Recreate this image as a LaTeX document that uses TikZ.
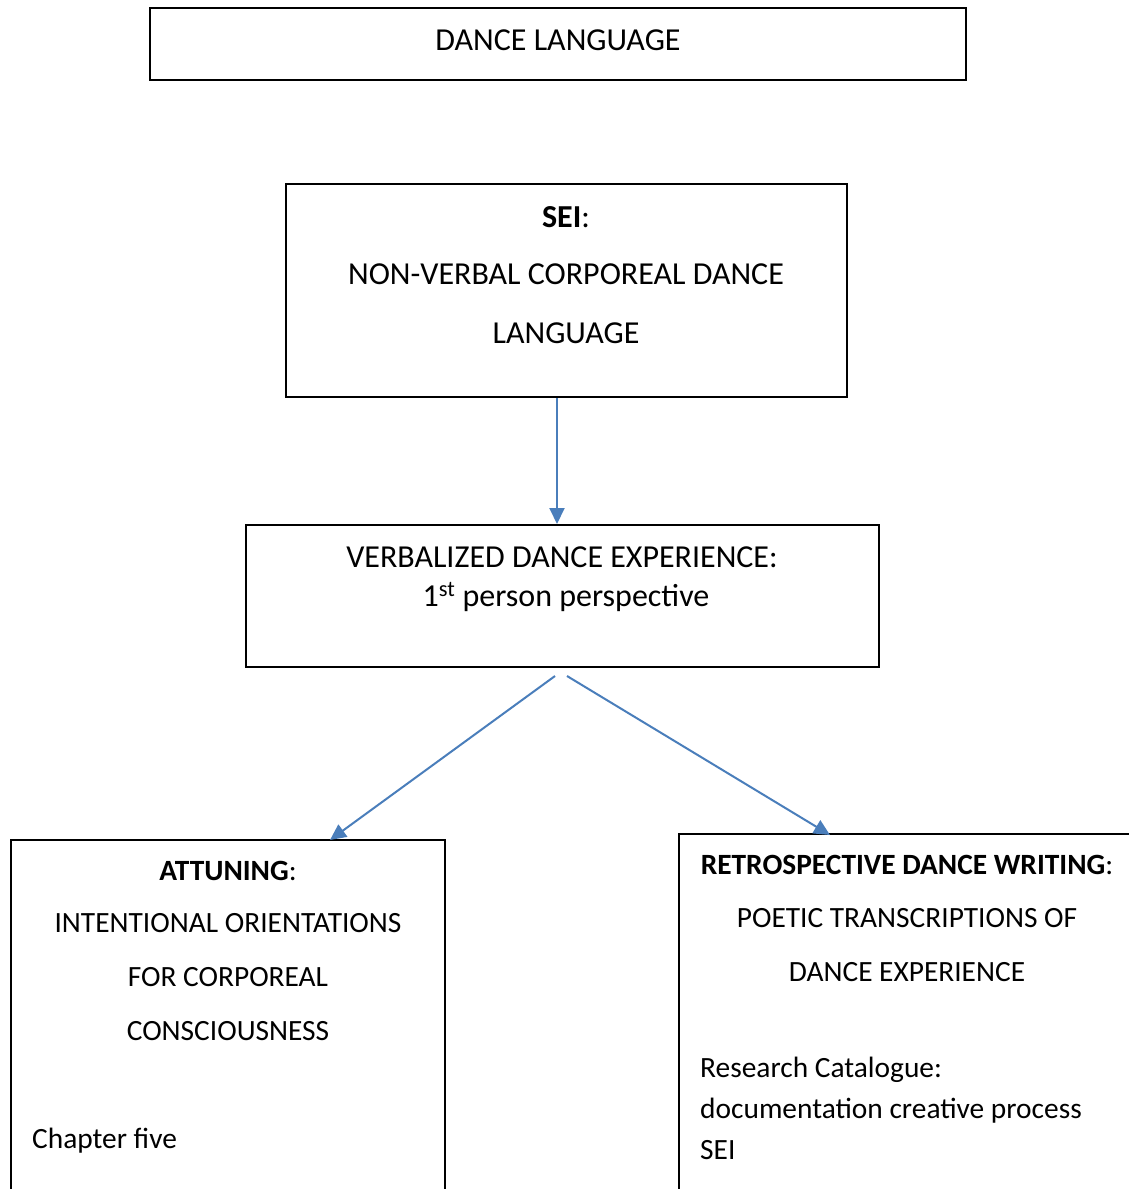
\documentclass[tikz,border=0pt]{standalone}
\usepackage{fontspec}
\setmainfont{Carlito}
\usetikzlibrary{arrows.meta}
\definecolor{arrowblue}{HTML}{4A7EBB}
\tikzset{
  boxline/.style={draw=black, line width=2pt},
  txt/.style={inner sep=0pt, anchor=base, font=\fontsize{32}{38}\selectfont},
  txtlow/.style={inner sep=0pt, anchor=base, font=\fontsize{29.4}{35}\selectfont},
  ltxt/.style={inner sep=0pt, anchor=base west, font=\fontsize{29.4}{35}\selectfont},
  conn/.style={draw=arrowblue, line width=2pt, -{Triangle[length=16pt,width=15pt]}}
}
\begin{document}
\begin{tikzpicture}[x=1pt,y=-1pt]
\useasboundingbox (0,0) rectangle (1129,1189);
\clip (0,0) rectangle (1129,1189);
% boxes
\draw[boxline] (150,8) rectangle (966,80);
\draw[boxline] (286,184) rectangle (847,397);
\draw[boxline] (246,525) rectangle (879,667);
\draw[boxline] (11,840) rectangle (445,1210);
\draw[boxline] (679,834) rectangle (1140,1210);
% texts
\node[txt] (t1) at (558,50) {DANCE LANGUAGE};
\node[txt] (s1) at (566,227) {\textbf{SEI}:};
\node[txt] (s2) at (566,284) {NON-VERBAL CORPOREAL DANCE};
\node[txt] (s3) at (566,343) {LANGUAGE};
\node[txt] (v1) at (562,567) {VERBALIZED DANCE EXPERIENCE:};
\node[txt] (v2) at (566,606) {1\textsuperscript{st} person perspective};
\node[txtlow] (a1) at (228,880) {\textbf{ATTUNING}:};
\node[txtlow] (a2) at (228,932) {INTENTIONAL ORIENTATIONS};
\node[txtlow] (a3) at (228,986) {FOR CORPOREAL};
\node[txtlow] (a4) at (228,1040) {CONSCIOUSNESS};
\node[ltxt] (a5) at (32,1148) {Chapter five};
\node[txtlow] (r1) at (907,874) {\textbf{RETROSPECTIVE DANCE WRITING}:};
\node[txtlow] (r2) at (907,927) {POETIC TRANSCRIPTIONS OF};
\node[txtlow] (r3) at (907,981) {DANCE EXPERIENCE};
\node[ltxt] (r4) at (700,1077) {Research Catalogue:};
\node[ltxt] (r5) at (700,1118) {documentation creative process};
\node[ltxt] (r6) at (700,1159) {SEI};
% connectors
\coordinate (seibot) at (557,398);
\coordinate (verbtop) at (557,524);
\coordinate (splitL) at (555,676);
\coordinate (splitR) at (567,676);
\coordinate (attop) at (330,840);
\coordinate (rettop) at (830,835);
\draw[conn] (seibot) -- (verbtop);
\draw[conn] (splitL) -- (attop);
\draw[conn] (splitR) -- (rettop);
\end{tikzpicture}
\end{document}
